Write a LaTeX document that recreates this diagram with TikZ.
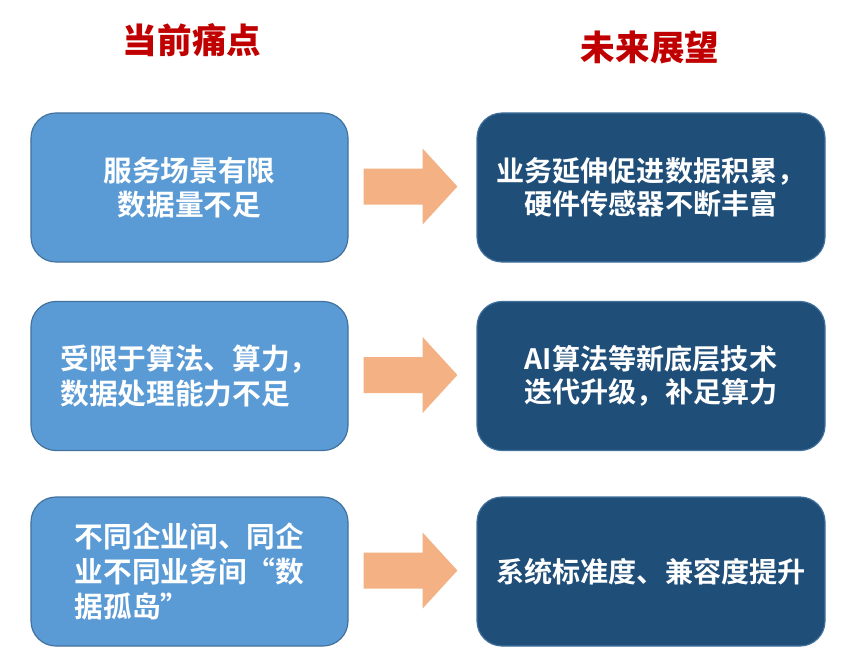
\documentclass[tikz,border=0pt]{standalone}
\usepackage{fontspec}
\setmainfont{Noto Sans CJK SC}
\newfontfamily\cjkbold{Noto Sans CJK SC Bold}
\newfontfamily\cjkblack{Noto Sans CJK SC Black}
\usetikzlibrary{calc}
\definecolor{painblue}{HTML}{5B9BD5}
\definecolor{painedge}{HTML}{41719C}
\definecolor{futureblue}{HTML}{1F4E79}
\definecolor{arroworange}{HTML}{F4B183}
\definecolor{titlered}{HTML}{C00000}

\begin{document}
\begin{tikzpicture}[x=0.03cm,y=-0.03cm,
    pain/.style={draw=painedge,fill=painblue,line width=1pt,rounded corners=0.75cm,
      minimum width=9.51cm,minimum height=4.47cm,text=white,align=center,
      font=\cjkbold\fontsize{24.5}{29.5}\selectfont},
    future/.style={pain,fill=futureblue,minimum width=10.44cm,
      font=\cjkbold\fontsize{24}{28}\selectfont},
    heading/.style={text=titlered,font=\cjkblack\fontsize{29.5}{34}\selectfont},
    push/.style={fill=arroworange}]
        \useasboundingbox (0,0) rectangle (852,671);
        % headings
        \node[heading] (now) at (192,40) {当前痛点};
        \node[heading] (later) at (650,47) {未来展望};
        % left column: pain points
        \node[pain] (l1) at (189.5,187.5) {服务场景有限\\数据量不足};
        \node[pain,align=left] (l2) at (189.5,376) {受限于算法、算力，\\数据处理能力不足};
        \node[pain,align=left] (l3) at (189.5,571.5) {不同企业间、同企\\业不同业务间“数\\据孤岛”};
        % right column: outlook
        \node[future] (r1) at (651,187.5) {业务延伸促进数据积累，\\硬件传感器不断丰富};
        \node[future] (r2) at (651,376) {AI算法等新底层技术\\迭代升级，补足算力};
        \node[future] (r3) at (651,571.5) {系统标准度、兼容度提升};
        % block arrows
        \foreach \r in {1,2,3}
          \fill[push] ($(l\r.east)+(15,-19)$) -- ($(l\r.east)+(74,-19)$) -- ($(l\r.east)+(74,-39)$)
            -- ($(r\r.west)+(-19,-1)$) -- ($(l\r.east)+(74,37)$) -- ($(l\r.east)+(74,17)$)
            -- ($(l\r.east)+(15,17)$) -- cycle;
\end{tikzpicture}
\end{document}
